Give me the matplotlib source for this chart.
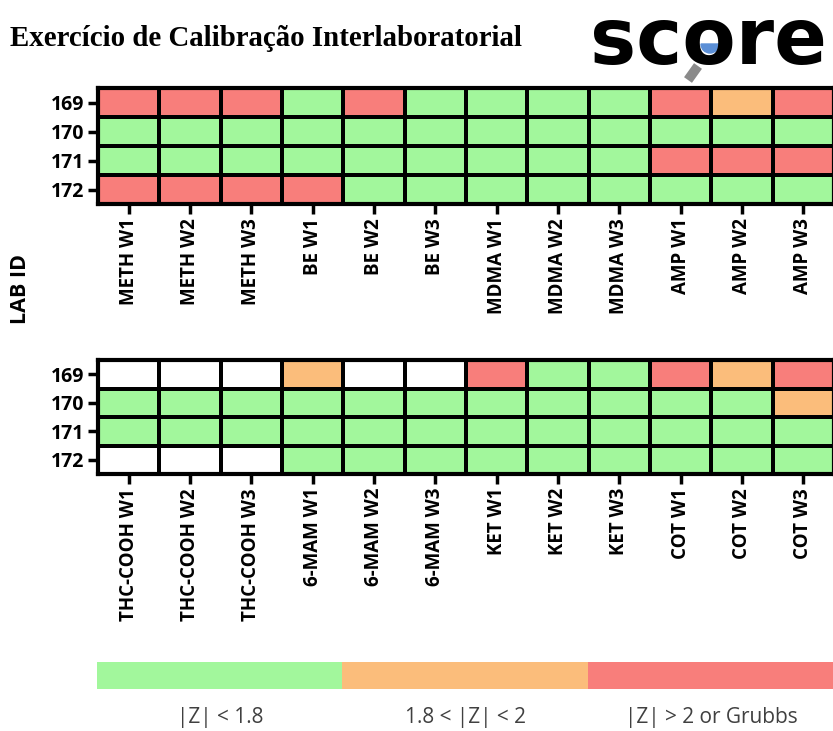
import numpy as np
import matplotlib
matplotlib.use("Agg")
import matplotlib.pyplot as plt
from matplotlib.colors import ListedColormap, BoundaryNorm
from matplotlib.patches import Wedge

W, H = 833, 731

LABS = ["169", "170", "171", "172"]
TOP_TESTS = ["METH W1", "METH W2", "METH W3", "BE W1", "BE W2", "BE W3",
             "MDMA W1", "MDMA W2", "MDMA W3", "AMP W1", "AMP W2", "AMP W3"]
BOT_TESTS = ["THC-COOH W1", "THC-COOH W2", "THC-COOH W3", "6-MAM W1", "6-MAM W2",
             "6-MAM W3", "KET W1", "KET W2", "KET W3", "COT W1", "COT W2", "COT W3"]

# 0 = sem resultado, 1 = |Z| < 1.8, 2 = 1.8 < |Z| < 2, 3 = |Z| > 2 or Grubbs
TOP_CODES = [
    [3, 3, 3, 1, 3, 1, 1, 1, 1, 3, 2, 3],
    [1, 1, 1, 1, 1, 1, 1, 1, 1, 1, 1, 1],
    [1, 1, 1, 1, 1, 1, 1, 1, 1, 3, 3, 3],
    [3, 3, 3, 3, 1, 1, 1, 1, 1, 1, 1, 1],
]
BOT_CODES = [
    [0, 0, 0, 2, 0, 0, 3, 1, 1, 3, 2, 3],
    [1, 1, 1, 1, 1, 1, 1, 1, 1, 1, 1, 2],
    [1, 1, 1, 1, 1, 1, 1, 1, 1, 1, 1, 1],
    [0, 0, 0, 1, 1, 1, 1, 1, 1, 1, 1, 1],
]
LEGEND_CODES = [1, 2, 3]
LEGEND_LABELS = ["|Z| < 1.8", "1.8 < |Z| < 2", "|Z| > 2 or Grubbs"]
COLORS = ["#ffffff", "#a2f79c", "#fbbd7b", "#f87e7b"]

cmap = ListedColormap(COLORS)
norm = BoundaryNorm([-0.5, 0.5, 1.5, 2.5, 3.5], cmap.N)


def px(x0, y0, x1, y1):
    """pixel box (top-left origin) -> figure fraction rect"""
    return [x0 / W, 1 - y1 / H, (x1 - x0) / W, (y1 - y0) / H]


def heat(fig, rect, codes, tests):
    ax = fig.add_axes(rect)
    ax.pcolormesh(np.array(codes), cmap=cmap, norm=norm, edgecolors="black", linewidth=1.5)
    ax.set_xlim(0, len(tests))
    ax.set_ylim(len(LABS), 0)
    ax.set_xticks(np.arange(len(tests)) + 0.5, tests, rotation=90,
                  fontweight="bold", fontsize=13.5)
    ax.set_yticks(np.arange(len(LABS)) + 0.5, LABS, fontweight="bold", fontsize=14)
    ax.tick_params(length=7, width=2.5, pad=3, colors="black")
    for s in ax.spines.values():
        s.set_linewidth(3)
    return ax


plt.rcParams["font.family"] = ["Open Sans", "DejaVu Sans"]
fig = plt.figure(figsize=(W / 100, H / 100), dpi=100)

heat(fig, px(98, 88, 834, 204), TOP_CODES, TOP_TESTS)
heat(fig, px(98, 360, 834, 474), BOT_CODES, BOT_TESTS)

fig.text(21 / W, 1 - 289 / H, "LAB ID", rotation=90, fontsize=15.5, fontweight="bold",
         ha="center", va="center")

# legenda de cores
lg = fig.add_axes(px(97, 662, 834, 689))
lg.imshow(np.array([LEGEND_CODES]), cmap=cmap, norm=norm, aspect="auto")
lg.axis("off")
for i, lab in enumerate(LEGEND_LABELS):
    lg.text(i, -1.05, lab, transform=lg.get_xaxis_transform(), ha="center", va="center",
            fontsize=15, color="#404040")

# titulo + logo
fig.text(10 / W, 1 - 38 / H, "Exercício de Calibração Interlaboratorial",
         family="Liberation Serif", fontweight="bold", fontsize=20.8, va="center")

ov = fig.add_axes([0, 0, 1, 1], zorder=10)
ov.set_xlim(0, W)
ov.set_ylim(H, 0)
ov.axis("off")
ov.patch.set_alpha(0)
ov.text(590, 64, "score", fontsize=56, fontweight="bold", family="DejaVu Sans",
        va="baseline", ha="left")
ov.plot([698, 688], [66, 80], color="#8a8a8a", lw=7, solid_capstyle="butt")
ov.add_patch(Wedge((710, 44), 9, 0, 180, color="#5b8fd6"))

fig.savefig("out.png", dpi=100)
